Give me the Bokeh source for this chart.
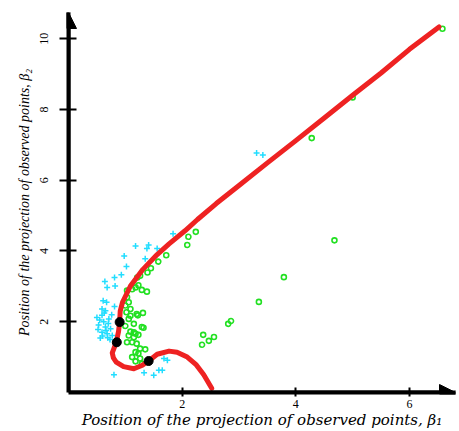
from bokeh.plotting import figure
from bokeh.models import Range1d, FixedTicker, Arrow, NormalHead
from bokeh.embed import file_html
from bokeh.resources import INLINE

# ---- data ----
curve_x = [6.52, 6.0, 5.5, 5.0, 4.5, 4.0, 3.5, 3.0, 2.6, 2.27, 2.05, 1.77, 1.56, 1.31,
           1.09, 0.95, 0.91, 0.90, 0.88, 0.84, 0.80, 0.77, 0.79, 0.84, 0.97, 1.15,
           1.30, 1.41, 1.56, 1.77, 1.91, 2.09, 2.25, 2.38, 2.52]
curve_y = [10.33, 9.70, 9.03, 8.40, 7.76, 7.12, 6.49, 5.85, 5.34, 4.89, 4.57, 4.20, 3.90, 3.48,
           3.01, 2.55, 2.30, 1.99, 1.72, 1.42, 1.25, 1.12, 0.98, 0.86, 0.73, 0.67,
           0.77, 0.89, 1.08, 1.17, 1.14, 1.00, 0.78, 0.50, 0.12]

dots_x = [0.90, 0.85, 1.41]
dots_y = [1.99, 1.42, 0.89]

green_x = [6.58, 5.0, 4.28, 4.68, 3.79, 3.35, 2.86, 2.81, 2.56, 2.47, 2.37, 2.35,
           2.24, 2.11, 2.09, 1.72, 1.58, 1.45, 1.39, 1.26, 1.21, 1.23, 1.12, 1.29, 1.38,
           1.03, 1.18, 1.03, 1.06, 1.00, 1.09, 1.02, 1.20, 1.31, 1.09, 1.22, 1.06,
           1.15, 1.00, 1.29, 1.32, 1.09, 1.15, 1.06, 1.18, 1.23, 1.15, 1.03, 1.12,
           1.20, 1.26, 1.35, 1.18, 1.12, 1.23, 1.18, 1.26, 1.29]
green_y = [10.28, 8.34, 7.19, 4.30, 3.26, 2.56, 2.02, 1.94, 1.57, 1.46, 1.63, 1.35,
           4.54, 4.40, 4.17, 3.88, 3.70, 3.51, 3.39, 3.30, 3.25, 3.03, 2.92, 2.90, 2.85,
           2.88, 2.97, 2.69, 2.55, 2.46, 2.36, 2.27, 2.22, 2.25, 2.17, 2.18, 2.08,
           1.94, 1.88, 1.85, 1.83, 1.72, 1.70, 1.61, 1.66, 1.63, 1.56, 1.42, 1.42,
           1.38, 1.24, 1.22, 1.14, 1.00, 1.10, 0.88, 0.96, 0.81]

cyan_x = [3.31, 3.42,
          1.84, 1.41, 1.38, 1.56, 1.18, 0.98, 1.35, 1.02, 0.93, 0.81, 0.64, 0.68,
          0.82, 0.61, 0.67, 0.81, 0.59, 0.65,
          0.59, 0.71, 0.53, 0.65, 0.74, 0.59, 0.68, 0.56, 0.77, 0.62, 0.70, 0.55,
          0.66, 0.73, 0.60, 0.76, 0.63, 0.69, 0.50, 0.52,
          0.80, 1.33, 1.50, 1.59, 1.65, 1.68, 1.74]
cyan_y = [6.77, 6.71,
          4.49, 4.17, 4.07, 4.07, 4.14, 3.86, 3.78, 3.56, 3.33, 3.25, 3.14, 2.97,
          3.01, 2.59, 2.55, 2.43, 2.36, 2.31,
          2.18, 2.08, 1.91, 1.85, 1.80, 1.70, 1.66, 1.54, 1.61, 2.00, 1.95, 2.05,
          1.75, 1.50, 1.60, 2.20, 2.25, 1.55, 2.12, 1.78,
          0.50, 0.56, 0.49, 0.63, 0.63, 0.96, 0.91]

x_ticks = [2, 4, 6]
y_ticks = [2, 4, 6, 8, 10]
x_max = 6.81
y_max = 10.74

x_title = "Position of the projection of observed points, \u03b2\u2081"
y_title = "Position of the projection of observed points, \u03b2\u2082"

GREEN = "#22e022"
CYAN = "#22ddff"
RED = "#ee2222"

p = figure(width=459, height=431, output_backend="svg", toolbar_location=None,
           x_range=Range1d(0, x_max), y_range=Range1d(0, y_max),
           min_border_left=68, min_border_right=4, min_border_top=12, min_border_bottom=37)
p.outline_line_color = None
p.xgrid.visible = False
p.ygrid.visible = False
p.background_fill_color = "white"
p.border_fill_color = "white"

p.xaxis.ticker = FixedTicker(ticks=x_ticks)
p.yaxis.ticker = FixedTicker(ticks=y_ticks)
for ax in (p.xaxis, p.yaxis):
    ax.axis_line_width = 4
    ax.axis_line_color = "black"
    ax.major_tick_line_width = 2
    ax.major_tick_line_color = "black"
    ax.minor_tick_line_color = None
    ax.major_label_text_font = "Liberation Serif"
    ax.major_label_text_color = "black"
    ax.axis_label_text_font_style = "italic"
    ax.axis_label_text_color = "black"

p.xaxis.major_tick_in = 5
p.xaxis.major_tick_out = 4
p.xaxis.major_label_standoff = 3
p.xaxis.major_label_text_font_size = "12px"
p.xaxis.axis_label = x_title
p.xaxis.axis_label_text_font = "DejaVu Serif"
p.xaxis.axis_label_text_font_size = "15px"
p.xaxis.axis_label_standoff = 0

p.yaxis.major_tick_in = 8
p.yaxis.major_tick_out = 9
p.yaxis.major_label_standoff = 11
p.yaxis.major_label_orientation = "vertical"
p.yaxis.major_label_text_font_size = "12px"
p.yaxis.axis_label = y_title
p.yaxis.axis_label_text_font = "Liberation Serif"
p.yaxis.axis_label_text_font_size = "14px"
p.yaxis.axis_label_standoff = 6

p.scatter(cyan_x, cyan_y, marker="cross", size=6, line_color=CYAN, line_width=1.5)
p.scatter(green_x, green_y, marker="circle", size=5, fill_color=None,
          line_color=GREEN, line_width=1.6)
p.line(curve_x, curve_y, line_color=RED, line_width=5, line_cap="round", line_join="round")
p.scatter(dots_x, dots_y, marker="circle", size=9, color="black")

p.add_layout(Arrow(end=NormalHead(size=16, fill_color="black", line_color="black"),
                   x_start=0, y_start=0, x_end=0, y_end=y_max, line_width=4))
p.add_layout(Arrow(end=NormalHead(size=16, fill_color="black", line_color="black"),
                   x_start=0, y_start=0, x_end=x_max, y_end=0, line_width=4))

open("out.html", "w").write(file_html(p, INLINE))
